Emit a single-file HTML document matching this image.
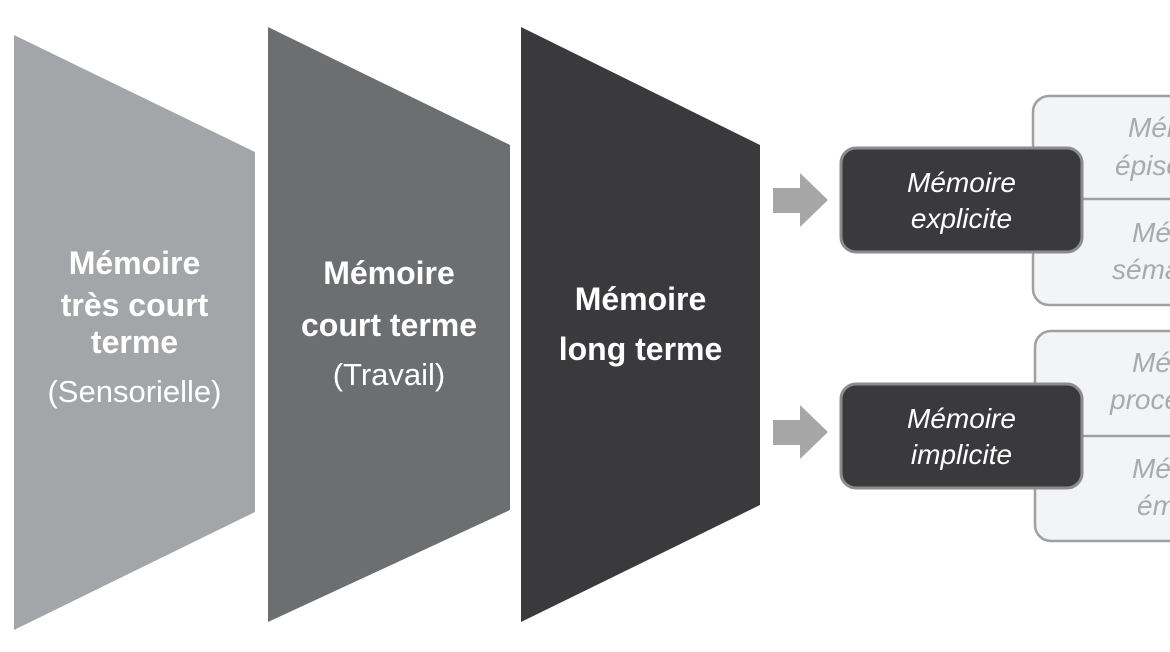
<!DOCTYPE html>
<html><head><meta charset="utf-8"><style>
body{margin:0;width:1170px;height:652px;background:#fff;overflow:hidden;position:relative;font-family:"Liberation Sans","DejaVu Sans",sans-serif}
#clip{position:absolute;left:0;top:0;width:1170px;height:652px;overflow:hidden}
.t{position:absolute;color:#fff;text-align:center;white-space:nowrap;height:40px;line-height:40px}
.b{font-weight:bold;font-size:32px}
.n{font-size:31px}
.i{font-style:italic;font-size:28px;color:#fff}
.g{position:absolute;font-style:italic;font-size:28px;color:#a9aaab;white-space:nowrap}
</style></head><body><div id="clip">
<svg width="1170" height="652" style="position:absolute;left:0;top:0">
<polygon points="14,35 255,152 255,512 14,630" fill="#a4a5a8"/>
<polygon points="268,27 510,145 510,510 268,622" fill="#6d6e70"/>
<polygon points="521,27 760,145 760,505 521,622" fill="#3a3a3c"/>
<polygon points="773,188 800,188 800,173 828,200 800,227 800,213 773,213" fill="#a6a6a6"/>
<polygon points="773,420 800,420 800,405 828,432 800,459 800,445 773,445" fill="#a6a6a6"/>
<rect x="1033" y="96" width="160" height="209" rx="16" fill="#f3f4f5" stroke="#a0a0a0" stroke-width="2.5"/>
<line x1="1033" y1="199" x2="1170" y2="199" stroke="#a0a0a0" stroke-width="2.5"/>
<rect x="1035" y="331" width="160" height="210" rx="16" fill="#f3f4f5" stroke="#a0a0a0" stroke-width="2.5"/>
<line x1="1035" y1="436" x2="1170" y2="436" stroke="#a0a0a0" stroke-width="2.5"/>
<rect x="841" y="148" width="241" height="104" rx="15" fill="#3a3a3c" stroke="#8c8c8c" stroke-width="3"/>
<rect x="841" y="384" width="241" height="104" rx="15" fill="#3a3a3c" stroke="#8c8c8c" stroke-width="3"/>
</svg>
<div class="t b" style="left:14px;width:241px;top:243px">Mémoire</div>
<div class="t b" style="left:14px;width:241px;top:285px">très court</div>
<div class="t b" style="left:14px;width:241px;top:322px">terme</div>
<div class="t n" style="left:14px;width:241px;top:372px">(Sensorielle)</div>
<div class="t b" style="left:268px;width:242px;top:253px">Mémoire</div>
<div class="t b" style="left:268px;width:242px;top:305px">court terme</div>
<div class="t n" style="left:268px;width:242px;top:355px">(Travail)</div>
<div class="t b" style="left:521px;width:239px;top:279px">Mémoire</div>
<div class="t b" style="left:521px;width:239px;top:329px">long terme</div>
<div class="t i" style="left:841px;width:241px;top:163px">Mémoire</div>
<div class="t i" style="left:841px;width:241px;top:199px">explicite</div>
<div class="t i" style="left:841px;width:241px;top:399px">Mémoire</div>
<div class="t i" style="left:841px;width:241px;top:435px">implicite</div>
<div class="g" style="left:1128px;top:112px">Mémoire</div>
<div class="g" style="left:1115px;top:150px">épisodique</div>
<div class="g" style="left:1132px;top:217px">Mémoire</div>
<div class="g" style="left:1112px;top:254px">sémantique</div>
<div class="g" style="left:1132px;top:347px">Mémoire</div>
<div class="g" style="left:1110px;top:384px">procédurale</div>
<div class="g" style="left:1132px;top:453px">Mémoire</div>
<div class="g" style="left:1137px;top:490px">émotionnelle</div>
</div></body></html>
